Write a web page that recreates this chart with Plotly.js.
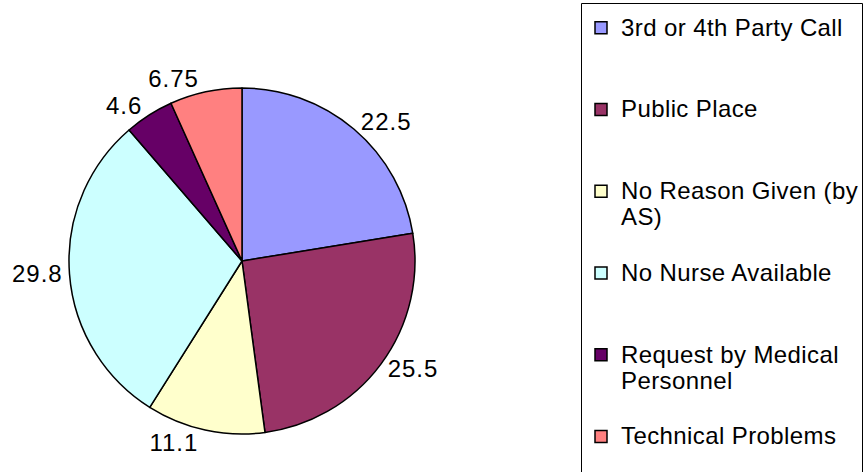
<!DOCTYPE html>
<html>
<head>
<meta charset="utf-8">
<script src="https://cdn.plot.ly/plotly-3.0.1.min.js"></script>
<style>
  html, body { margin: 0; padding: 0; background: #ffffff; }
  #chart { width: 867px; height: 472px; }
  .legendtext { letter-spacing: 0.4px; }
  .slicetext { letter-spacing: 1px; }
  .textline { display: none; }
</style>
</head>
<body>
<div id="chart"></div>
<script>
const categories = [
  "3rd or 4th Party Call",
  "Public Place",
  "No Reason Given (by<br>AS)",
  "No Nurse Available",
  "Request by Medical<br>Personnel",
  "Technical Problems"
];
const values = [22.5, 25.5, 11.1, 29.8, 4.6, 6.75];
const colors = ["#9999FF", "#993366", "#FFFFCC", "#CCFFFF", "#660066", "#FF8080"];

// legend labels: pad entries (except the last) to three lines so the spacing is even
const legendLabels = categories.map((c, i) => {
  const lines = c.split('<br>').map(s => '<span style="font-size:24px">' + s + '</span>');
  if (i < categories.length - 1) { while (lines.length < 3) lines.push(' '); }
  return lines.join('<br>');
});

const W = 867, H = 472;
const cx = 242, cy = 261, R = 173;

const trace = {
  type: 'pie',
  labels: legendLabels,
  values: values,
  sort: false,
  direction: 'clockwise',
  rotation: 0,
  marker: { colors: colors, line: { color: '#000000', width: 1.5 } },
  texttemplate: '%{value}',
  textposition: 'outside',
  outsidetextfont: { family: 'Liberation Sans, Arial, sans-serif', size: 24, color: '#000000' },
  hoverinfo: 'label+value',
  domain: {
    x: [(cx - R) / W, (cx + R) / W],
    y: [(H - (cy + R)) / H, (H - (cy - R)) / H]
  }
};

const layout = {
  width: W,
  height: H,
  margin: { l: 0, r: 0, t: 0, b: 0, pad: 0 },
  paper_bgcolor: '#ffffff',
  font: { family: 'Liberation Sans, Arial, sans-serif', color: '#000000' },
  showlegend: true,
  legend: {
    x: 581 / W,
    xanchor: 'left',
    y: 1 - 8 / H,
    yanchor: 'top',
    bgcolor: 'rgba(0,0,0,0)',
    borderwidth: 0,
    font: { family: 'Liberation Sans, Arial, sans-serif', size: 20.2, color: '#000000' },
    valign: 'top',
    itemclick: false,
    itemdoubleclick: false
  },
  shapes: [{
    type: 'rect', xref: 'paper', yref: 'paper',
    x0: 581.5 / W, x1: 862.5 / W, y0: -0.02, y1: 1 - 3.5 / H,
    line: { color: '#000000', width: 1 },
    fillcolor: 'rgba(0,0,0,0)'
  }]
};

Plotly.newPlot('chart', [trace], layout, { displayModeBar: false, staticPlot: true });
</script>
</body>
</html>
